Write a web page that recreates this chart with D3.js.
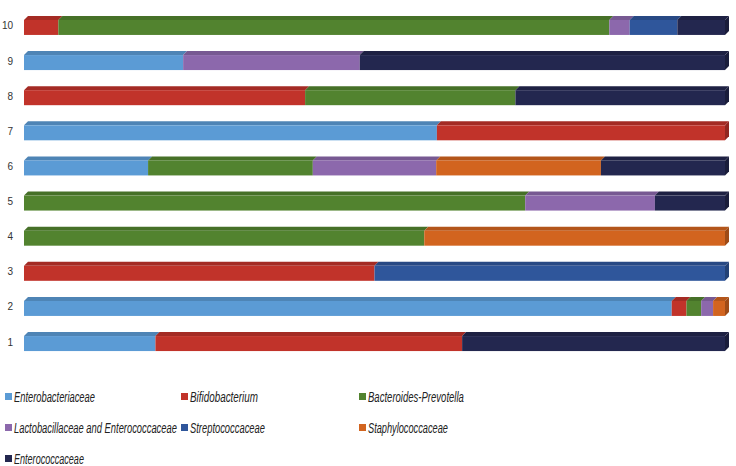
<!DOCTYPE html>
<html>
<head>
<meta charset="utf-8">
<style>
  body { margin: 0; background: #fff; }
  svg text { font-family: "Liberation Sans", Arial, sans-serif; }
  .row-label { font-size: 10px; fill: #333; text-anchor: end; }
  .legend-label { font-size: 14px; font-style: italic; fill: #222; }
</style>
</head>
<body>
<div id="chart"></div>
<script src="https://cdn.jsdelivr.net/npm/d3@7"></script>
<script>
// rows, bottom (1) to top (10)
var rows = ["1", "2", "3", "4", "5", "6", "7", "8", "9", "10"];

var seriesNames = ["Enterobacteriaceae", "Bifidobacterium", "Bacteroides-Prevotella",
  "Lactobacillaceae and Enterococcaceae", "Streptococcaceae", "Staphylococcaceae", "Enterococcaceae"];

var enterobacteriaceae = [18.75, 92.4, 0, 0, 0, 17.7, 58.9, 0, 22.7, 0];
var bifidobacterium    = [43.75, 2.1, 50, 0, 0, 0, 41.1, 40.1, 0, 4.9];
var bacteroides        = [0, 2.1, 0, 57.1, 71.5, 23.5, 0, 30, 0, 78.6];
var lactobacillaceae   = [0, 1.7, 0, 0, 18.5, 17.6, 0, 0, 25.2, 2.9];
var streptococcaceae   = [0, 0, 50, 0, 0, 0, 0, 0, 0, 6.8];
var staphylococcaceae  = [0, 1.7, 0, 42.9, 0, 23.5, 0, 0, 0, 0];
var enterococcaceae    = [37.5, 0, 0, 0, 10, 17.7, 0, 29.9, 52.1, 6.8];

var seriesValues = [enterobacteriaceae, bifidobacterium, bacteroides, lactobacillaceae,
  streptococcaceae, staphylococcaceae, enterococcaceae];

var colors = ["#5b9bd5", "#c1332a", "#52832f", "#8c68ac", "#2f569b", "#d2641f", "#23274f"];

var W = 736, H = 466;
var depth = 4, barH = 15;

var table = rows.map(function (r, i) {
  var o = { row: r };
  seriesNames.forEach(function (s, j) { o[s] = seriesValues[j][i]; });
  return o;
});

var stacked = d3.stack().keys(seriesNames).offset(d3.stackOffsetExpand)(table);

var x = d3.scaleLinear().domain([0, 1]).range([24, 725]);
var y = d3.scaleBand().domain(rows.slice().reverse()).range([7, 360]).paddingInner(0.55).paddingOuter(0.3);

var svg = d3.select("#chart").append("svg").attr("width", W).attr("height", H);

var g = svg.append("g");

// row labels
g.selectAll(".row-label").data(rows).enter().append("text")
  .attr("class", "row-label")
  .attr("x", 13)
  .attr("y", function (d) { return y(d) + y.bandwidth() / 2 + 4; })
  .text(function (d) { return d; });

function frontTop(d) { return y(d.data.row) + (y.bandwidth() - barH) / 2 + depth / 2; }

stacked.forEach(function (s, j) {
  var col = d3.color(colors[j]);
  var layer = g.append("g");
  var segs = s.filter(function (d) { return d[1] - d[0] > 0; });

  // top face
  layer.selectAll("path.top").data(segs).enter().append("path")
    .attr("fill", col.darker(0.45))
    .attr("d", function (d) {
      var x0 = x(d[0]), x1 = x(d[1]), t = frontTop(d);
      return "M" + x0 + "," + t + "L" + (x0 + depth) + "," + (t - depth) +
        "L" + (x1 + depth) + "," + (t - depth) + "L" + x1 + "," + t + "Z";
    });

  // front face
  layer.selectAll("rect").data(segs).enter().append("rect")
    .attr("x", function (d) { return x(d[0]); })
    .attr("y", frontTop)
    .attr("width", function (d) { return x(d[1]) - x(d[0]); })
    .attr("height", barH)
    .attr("fill", col);

  // right side face only for the last segment of each bar
  layer.selectAll("path.side").data(segs.filter(function (d) { return d[1] >= 0.9999; })).enter().append("path")
    .attr("fill", col.darker(0.8))
    .attr("d", function (d) {
      var x1 = x(d[1]), t = frontTop(d);
      return "M" + x1 + "," + t + "L" + (x1 + depth) + "," + (t - depth) +
        "L" + (x1 + depth) + "," + (t + barH - depth) + "L" + x1 + "," + (t + barH) + "Z";
    });
});

// legend
var legendX = [5, 181, 359];
var legendY = [397, 428, 459];
var legendTextWidth = [81, 68, 96, 163, 75, 80, 70];

var legend = svg.append("g").selectAll("g").data(seriesNames).enter().append("g")
  .attr("transform", function (d, i) {
    return "translate(" + legendX[i % 3] + "," + legendY[Math.floor(i / 3)] + ")";
  });

legend.append("rect")
  .attr("x", 0).attr("y", -4)
  .attr("width", 7).attr("height", 7)
  .attr("fill", function (d, i) { return colors[i]; });

// condensed look: squeeze each label horizontally to the width it has in the source
legend.append("text")
  .attr("class", "legend-label")
  .attr("y", 4.5)
  .text(function (d) { return d; })
  .attr("transform", function (d, i) {
    var k = legendTextWidth[i] / this.getComputedTextLength();
    return "translate(9,0) scale(" + k + ",1)";
  });
</script>
</body>
</html>
